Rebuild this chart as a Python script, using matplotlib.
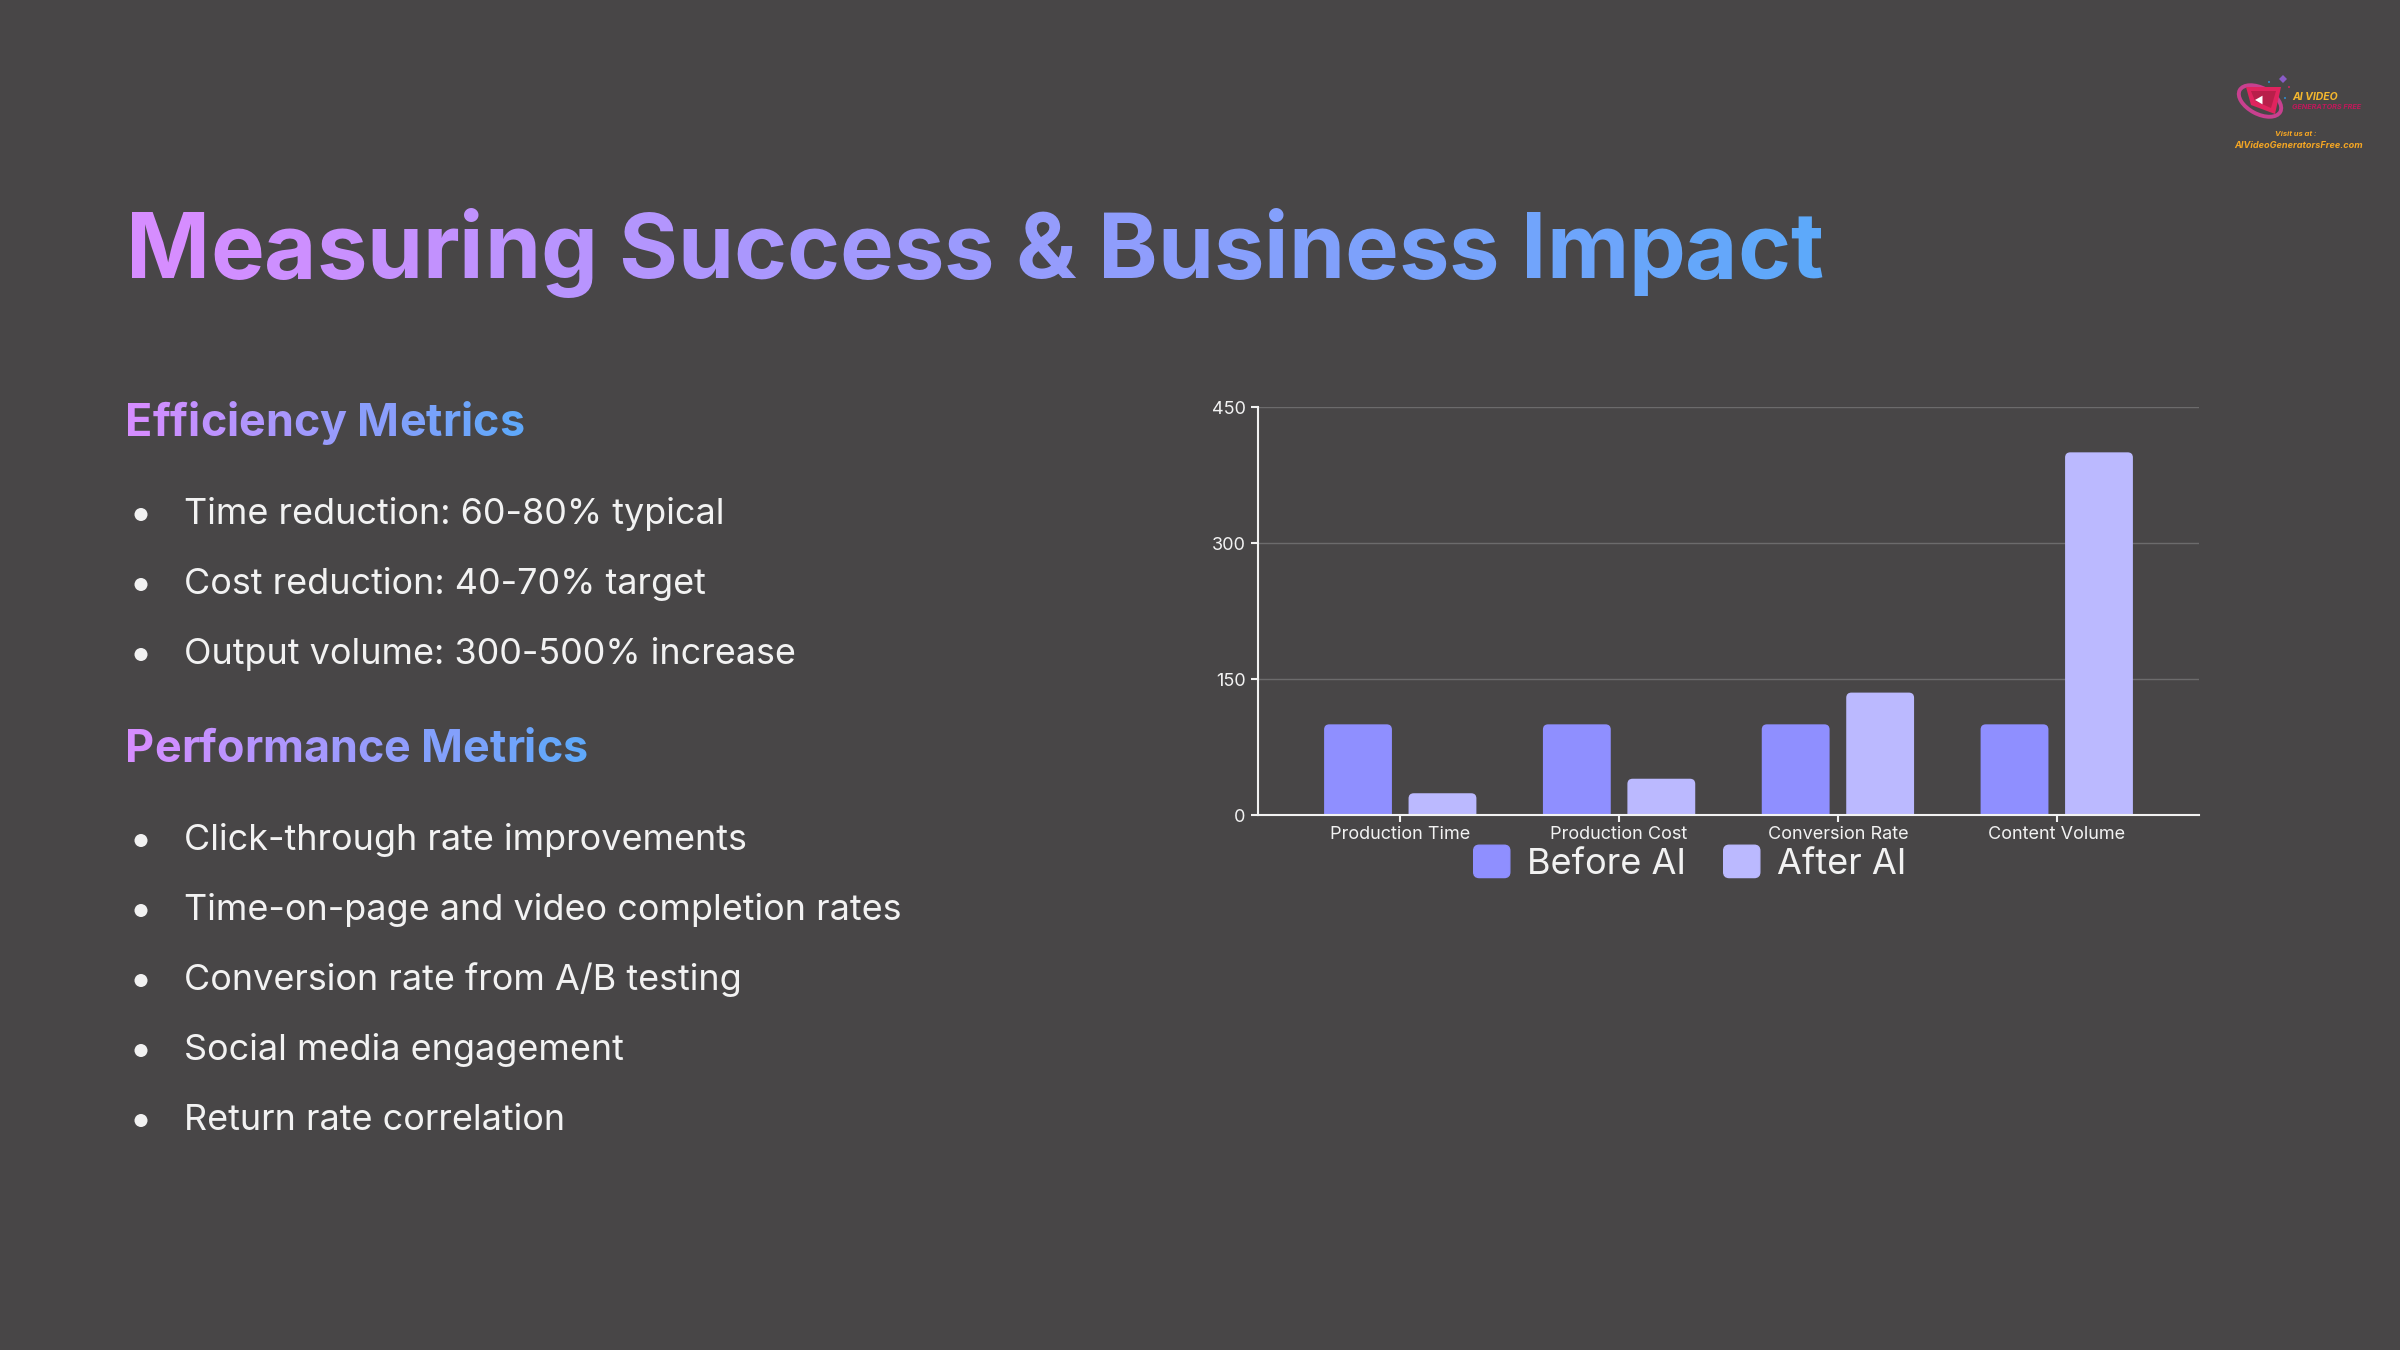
#!/usr/bin/env python3
# -*- coding: utf-8 -*-
import matplotlib as mpl
mpl.use("Agg")
import matplotlib.pyplot as plt
from matplotlib.colors import to_rgb
from matplotlib.legend_handler import HandlerPatch
from matplotlib.patches import Circle, Ellipse, FancyBboxPatch, Patch, Polygon, RegularPolygon

W, H = 2400, 1350
BG = "#484647"
TEXT = "#F2F2F2"
BEFORE = "#8F8FFF"
AFTER = "#BBB9FF"
GRAD_LEFT = "#D98CFF"
GRAD_RIGHT = "#5CA9FA"
FONT = "Inter"

categories = ["Production Time", "Production Cost", "Conversion Rate", "Content Volume"]
before_ai = [100, 100, 100, 100]
after_ai = [24, 40, 135, 400]
y_ticks = [0, 150, 300, 450]

title = "Measuring Success & Business Impact"
section_1 = "Efficiency Metrics"
section_2 = "Performance Metrics"
bullets_1 = [
    "Time reduction: 60-80% typical",
    "Cost reduction: 40-70% target",
    "Output volume: 300-500% increase",
]
bullets_2 = [
    "Click-through rate improvements",
    "Time-on-page and video completion rates",
    "Conversion rate from A/B testing",
    "Social media engagement",
    "Return rate correlation",
]
bullets_1_y = [514, 584, 654]
bullets_2_y = [840, 910, 980, 1050, 1120]

plt.rcParams["font.family"] = [FONT, "DejaVu Sans"]
fig = plt.figure(figsize=(W / 100, H / 100), dpi=100, facecolor=BG)

# whole-slide axes in pixels, y pointing down like the screenshot
bg = fig.add_axes([0, 0, 1, 1])
bg.set_xlim(0, W)
bg.set_ylim(H, 0)
bg.axis("off")


def mix(c0, c1, f):
    a, b = to_rgb(c0), to_rgb(c1)
    return tuple(a[i] + (b[i] - a[i]) * f for i in range(3))


def gradient_text(x, y, s, size, weight):
    # one text per letter, each with its colour along the gradient
    renderer = fig.canvas.get_renderer()

    def width(part):
        t = bg.text(0, 0, part, fontsize=size, fontweight=weight)
        w = t.get_window_extent(renderer).width
        t.remove()
        return w

    w_h = width("H")
    total = width(s)
    for i, ch in enumerate(s):
        if ch == " ":
            continue
        off = width(s[:i] + "H") - w_h if i else 0
        w_ch = width(ch)
        f = min(1, (off + w_ch / 2) / total)
        bg.text(x + off, y, ch, fontsize=size, fontweight=weight,
                color=mix(GRAD_LEFT, GRAD_RIGHT, f), va="baseline", ha="left")


gradient_text(126, 278, title, 64.9, "bold")
gradient_text(125, 436, section_1, 32.3, "bold")
gradient_text(125, 762, section_2, 32.3, "bold")

for rows, ys in ((bullets_1, bullets_1_y), (bullets_2, bullets_2_y)):
    for row, yy in zip(rows, ys):
        bg.add_patch(Circle((141, yy + 0.5), 6.5, color=TEXT, lw=0))
        bg.text(184, yy, row, fontsize=25.9, color=TEXT, va="center", ha="left")

# logo, top right
bg.add_patch(Ellipse((2260, 101), 46, 26, angle=28, fc="none", ec="#C8408F", lw=2.8))
bg.add_patch(Polygon([(2246, 87), (2281, 87), (2275, 114), (2251, 105)], fc="#E0245E", lw=0))
bg.add_patch(Polygon([(2251, 91), (2276, 91), (2271, 108), (2255, 101)], fc="#B81F4A", lw=0))
bg.add_patch(RegularPolygon((2260, 100), 3, radius=5, orientation=-0.52, fc="white", lw=0))
bg.add_patch(RegularPolygon((2283, 79), 4, radius=4, fc="#8A5CC8", lw=0))
bg.add_patch(Circle((2269, 82), 1, fc="#2F8FD0", lw=0))
bg.add_patch(Circle((2289, 87), 1, fc="#D0245E", lw=0))
bg.add_patch(Circle((2285, 98), 1, fc="#2F8FD0", lw=0))
bg.text(2292, 97, "AI VIDEO", fontsize=7.5, fontweight="bold", style="italic", color="#F5B82E", va="center")
bg.text(2292, 107, "GENERATORS FREE", fontsize=5.2, fontweight="bold", style="italic", color="#C2185B", va="center")
bg.text(2296, 134, "Visit us at :", fontsize=5.5, fontweight="bold", style="italic", color="#F5A623", va="center", ha="center")
bg.text(2299, 145, "AIVideoGeneratorsFree.com", fontsize=6.6, fontweight="bold", style="italic", color="#F5A623", va="center", ha="center")

# chart
left, right, top, bottom = 1258, 2199, 407, 815
ax = fig.add_axes([left / W, 1 - bottom / H, (right - left) / W, (bottom - top) / H])
ax.set_facecolor("none")
ax.set_xlim(-0.65, 3.65)
ax.set_ylim(0, 450)
ax.set_yticks(y_ticks)
ax.set_xticks(range(len(categories)), categories)
ax.grid(True, axis="y", color="#6C6B6C", linewidth=1)
ax.set_axisbelow(True)
for name in ("top", "right"):
    ax.spines[name].set_visible(False)
for name in ("left", "bottom"):
    ax.spines[name].set_color(TEXT)
    ax.spines[name].set_linewidth(1.5)
    ax.spines[name].set_zorder(5)
ax.tick_params(axis="y", colors=TEXT, labelsize=13, length=5, width=1.5, pad=4)
ax.tick_params(axis="x", colors=TEXT, labelsize=13, length=5, width=1.5, pad=3)

BAR_W = 0.31
OFFSET = 0.193
RADIUS = 0.024
for i in range(len(categories)):
    for val, off, col in ((before_ai[i], -OFFSET, BEFORE), (after_ai[i], OFFSET, AFTER)):
        # rounded box runs past the baseline, the axes clip its lower corners
        ax.add_patch(FancyBboxPatch((i + off - BAR_W / 2, -20), BAR_W, val + 20,
                                    boxstyle=f"round,pad=0,rounding_size={RADIUS}",
                                    mutation_aspect=240, fc=col, ec="none", zorder=3))


def rounded_handle(legend, orig_handle, xdescent, ydescent, width, height, fontsize):
    return FancyBboxPatch((-xdescent, -ydescent), width, height,
                          boxstyle="round,pad=0,rounding_size=4")


ax.legend(handles=[Patch(color=BEFORE, label="Before AI"), Patch(color=AFTER, label="After AI")],
          handler_map={Patch: HandlerPatch(patch_func=rounded_handle)},
          loc="center", bbox_to_anchor=(0.459, (bottom - 863) / (bottom - top)), ncol=2,
          frameon=False, fontsize=26, labelcolor=TEXT, handlelength=1.0, handleheight=1.0,
          handletextpad=0.47, columnspacing=1.05, borderpad=0, borderaxespad=0)

fig.savefig("out.png", dpi=100, facecolor=BG)
